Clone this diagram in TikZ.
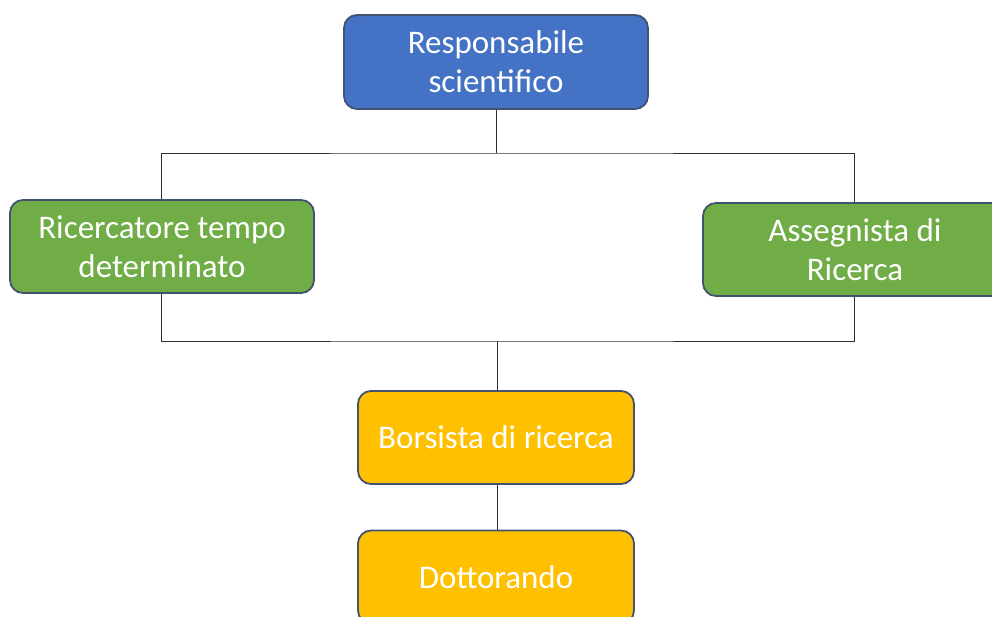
\documentclass[tikz,border=0pt]{standalone}
\usepackage{fontspec}
\setmainfont{Carlito}
\definecolor{boxblue}{HTML}{4472C4}
\definecolor{boxgreen}{HTML}{70AD47}
\definecolor{boxyellow}{HTML}{FFC000}
\definecolor{boxedge}{HTML}{41536F}
\definecolor{conn}{HTML}{303030}
\begin{document}
\begin{tikzpicture}[x=1pt,y=-1pt,
  orgbox/.style={draw=boxedge, line width=1.8pt, rounded corners=13pt, text=white,
    font=\fontsize{33}{39}\selectfont, align=center, inner sep=0pt},
  link/.style={draw=conn, line width=0.9pt}]
\useasboundingbox (0,0) rectangle (992,617);
\node[orgbox, fill=boxblue, minimum width=304pt, minimum height=94pt] (resp) at (496,62) {Responsabile\\scientifico};
\node[orgbox, fill=boxgreen, minimum width=304pt, minimum height=93pt] (ric) at (162,246.5) {Ricercatore tempo\\determinato};
\node[orgbox, fill=boxgreen, minimum width=304pt, minimum height=93pt] (ass) at (855,249.5) {Assegnista di\\Ricerca};
\node[orgbox, fill=boxyellow, minimum width=276pt, minimum height=93pt] (bor) at (496,437.5) {Borsista di ricerca};
\node[orgbox, fill=boxyellow, minimum width=276pt, minimum height=93pt] (dot) at (496,577) {Dottorando};
\coordinate (top) at (496,153);
\coordinate (mid) at (497,341);
\draw[link] (resp.south) -- (top);
\draw[link] (ric.north -| 161,0) |- (top) -| (ass.north -| 854,0);
\draw[link] (ric.south -| 161,0) |- (mid) -| (ass.south -| 854,0);
\draw[link] (mid) -- (bor.north -| mid);
\draw[link] (bor.south -| mid) -- (dot.north -| mid);
\end{tikzpicture}
\end{document}
